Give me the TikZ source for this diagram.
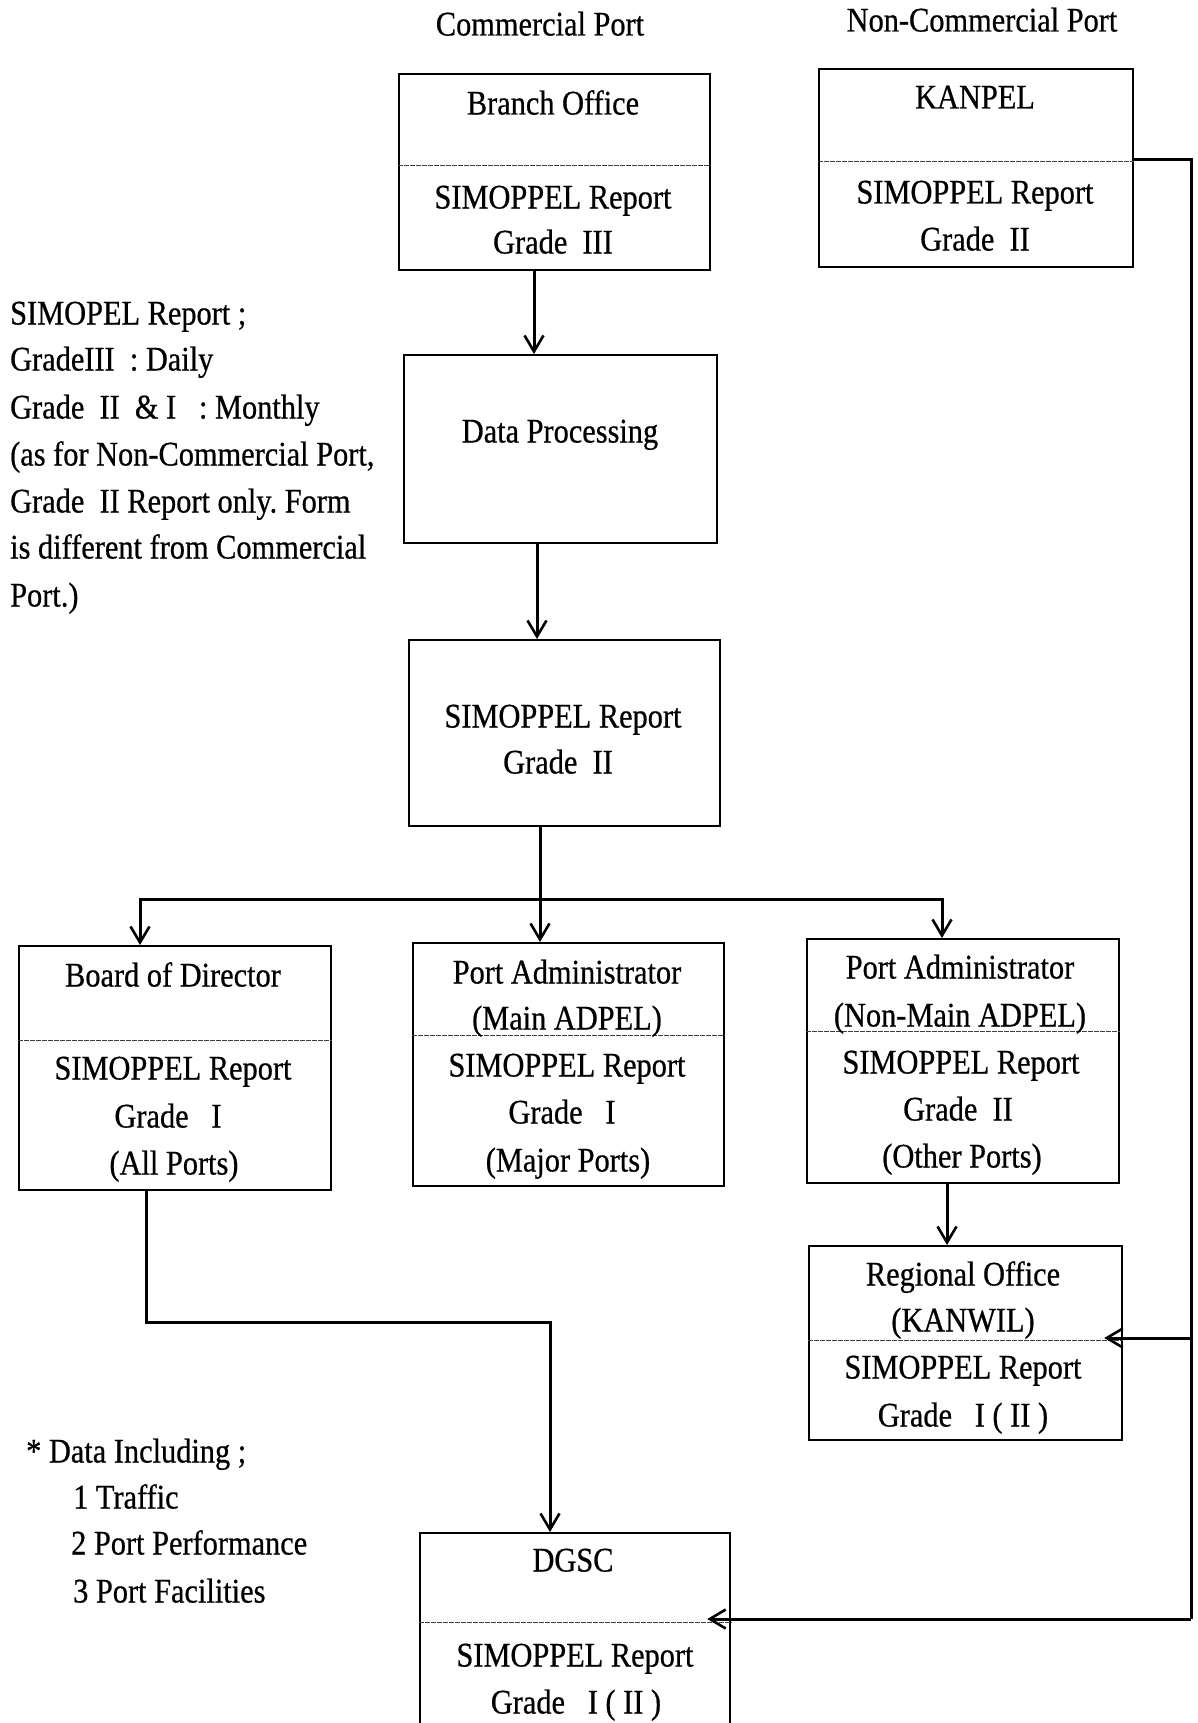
\documentclass[tikz,border=0pt]{standalone}
\usepackage{fontspec}
\setmainfont{Liberation Serif}[FakeStretch=0.88,FakeBold=0.6]
\usetikzlibrary{arrows.meta}
\frenchspacing
\begin{document}
\begin{tikzpicture}[x=1pt,y=-1pt,
  every node/.style={font=\fontsize{34.5}{47}\selectfont},
  box/.style={draw, line width=2.2pt, anchor=north west, inner sep=0pt},
  lbl/.style={inner sep=0pt, text height=23pt, text depth=0pt},
  note/.style={lbl, anchor=west},
  sepline/.style={line width=1pt, black!75, dash pattern=on 5pt off 1pt},
  wire/.style={line width=3pt},
  arr/.style={wire, -{Straight Barb[length=16pt,width=19pt,line width=2.6pt]}}]

% page frame
\path[use as bounding box] (0,0) rectangle (1197,1723);
\clip (0,0) rectangle (1197,1723);
\fill[white] (0,0) rectangle (1197,1723);

% column headings
\node[lbl] (hcom) at (540,24) {Commercial Port};
\node[lbl] (hnon) at (982,20) {Non-Commercial Port};

% boxes
\node[box, minimum width=311pt, minimum height=196pt] (branch) at (398,73) {};
\node[box, minimum width=314pt, minimum height=198pt] (kanpel) at (818,68) {};
\node[box, minimum width=313pt, minimum height=188pt] (dp)     at (403,354) {};
\node[box, minimum width=311pt, minimum height=186pt] (g2)     at (408,639) {};
\node[box, minimum width=312pt, minimum height=244pt] (board)  at (18,945) {};
\node[box, minimum width=311pt, minimum height=243pt] (pam)    at (412,942) {};
\node[box, minimum width=312pt, minimum height=244pt] (pan)    at (806,938) {};
\node[box, minimum width=313pt, minimum height=194pt] (reg)    at (808,1245) {};
\node[box, minimum width=310pt, minimum height=230pt] (dgsc)   at (419,1532) {};

% separators inside the boxes
\draw[sepline] ([yshift=-93pt]branch.north west) -- ([yshift=-93pt]branch.north east);
\draw[sepline] ([yshift=-94pt]kanpel.north west) -- ([yshift=-94pt]kanpel.north east);
\draw[sepline] ([yshift=-95pt]board.north west) -- ([yshift=-95pt]board.north east);
\draw[sepline] ([yshift=-93pt]pam.north west) -- ([yshift=-93pt]pam.north east);
\draw[sepline] ([yshift=-93pt]pan.north west) -- ([yshift=-93pt]pan.north east);
\draw[sepline] ([yshift=-95pt]reg.north west) -- ([yshift=-95pt]reg.north east);
\draw[sepline] ([yshift=-90pt]dgsc.north west) -- ([yshift=-90pt]dgsc.north east);

% box texts
\node[lbl] (branch-a) at (553,103) {Branch Office};
\node[lbl] (branch-b) at (553,197) {SIMOPPEL Report};
\node[lbl] (branch-c) at (553,242) {Grade\ \ III};

\node[lbl] (kanpel-a) at (975,97) {KANPEL};
\node[lbl] (kanpel-b) at (975,192) {SIMOPPEL Report};
\node[lbl] (kanpel-c) at (975,239) {Grade\ \ II};

\node[lbl] (dp-a) at (560,431) {Data Processing};

\node[lbl] (g2-a) at (563,716) {SIMOPPEL Report};
\node[lbl] (g2-b) at (558,762) {Grade\ \ II};

\node[lbl] (board-a) at (173,975) {Board of Director};
\node[lbl] (board-b) at (173,1068) {SIMOPPEL Report};
\node[lbl] (board-c) at (168,1116) {Grade\ \ \ I};
\node[lbl] (board-d) at (174,1163) {(All Ports)};

\node[lbl] (pam-a) at (567,972) {Port Administrator};
\node[lbl] (pam-b) at (567,1018) {(Main ADPEL)};
\node[lbl] (pam-c) at (567,1065) {SIMOPPEL Report};
\node[lbl] (pam-d) at (562,1112) {Grade\ \ \ I};
\node[lbl] (pam-e) at (568,1160) {(Major Ports)};

\node[lbl] (pan-a) at (960,967) {Port Administrator};
\node[lbl] (pan-b) at (960,1015) {(Non-Main ADPEL)};
\node[lbl] (pan-c) at (961,1062) {SIMOPPEL Report};
\node[lbl] (pan-d) at (958,1109) {Grade\ \ II};
\node[lbl] (pan-e) at (962,1156) {(Other Ports)};

\node[lbl] (reg-a) at (963,1274) {Regional Office};
\node[lbl] (reg-b) at (963,1320) {(KANWIL)};
\node[lbl] (reg-c) at (963,1367) {SIMOPPEL Report};
\node[lbl] (reg-d) at (963,1415) {Grade\ \ \ I ( II )};

\node[lbl] (dgsc-a) at (573,1560) {DGSC};
\node[lbl] (dgsc-b) at (575,1655) {SIMOPPEL Report};
\node[lbl] (dgsc-c) at (576,1702) {Grade\ \ \ I ( II )};

% side notes
\node[note] (n1) at (10,313) {SIMOPEL Report ;};
\node[note] (n2) at (10,359) {GradeIII\ \ : Daily};
\node[note] (n3) at (10,407) {Grade\ \ II\ \ \& I\ \ \ : Monthly};
\node[note] (n4) at (10,454) {(as for Non-Commercial Port,};
\node[note] (n5) at (10,501) {Grade\ \ II Report only. Form};
\node[note] (n6) at (10,547) {is different from Commercial};
\node[note] (n7) at (10,595) {Port.)};

\node[note] (d0) at (26,1451) {* Data Including ;};
\node[note] (d1) at (73,1497) {1 Traffic};
\node[note] (d2) at (71,1543) {2 Port Performance};
\node[note] (d3) at (73,1591) {3 Port Facilities};

% connector reference points
\coordinate (colA) at (534,0);
\coordinate (colB) at (537,0);
\coordinate (busM) at (540,899);
\coordinate (busL) at (140,899);
\coordinate (busR) at (942,899);
\coordinate (colR) at (947,0);
\coordinate (bendA) at (146,1322);
\coordinate (bendB) at (550,1322);
\coordinate (trunkTop) at (1191,160);
\coordinate (trunkMid) at (1191,1338);
\coordinate (trunkBot) at (1191,1619);

% commercial port flow
\draw[arr] (branch.south -| colA) -- (dp.north -| colA);
\draw[arr] (dp.south -| colB) -- (g2.north -| colB);
\draw[wire] (g2.south -| busM) -- (busM);
\draw[wire, line cap=rect] (busL) -- (busR);
\draw[arr] (busL) -- (busL |- board.north);
\draw[arr] (busM) -- (busM |- pam.north);
\draw[arr] (busR) -- (busR |- pan.north);
\draw[arr] (pan.south -| colR) -- (reg.north -| colR);
\draw[arr, line join=miter] (board.south -| bendA) -- (bendA) -- (bendB) -- (bendB |- dgsc.north);

% non-commercial port flow
\draw[wire, line join=miter] (kanpel.east |- trunkTop) -- (trunkTop) -- (trunkBot);
\draw[arr] (trunkMid) -- ([xshift=-19pt]reg.east |- trunkMid);
\draw[arr] (trunkBot) -- ([xshift=-24pt]dgsc.east |- trunkBot);
\end{tikzpicture}
\end{document}
